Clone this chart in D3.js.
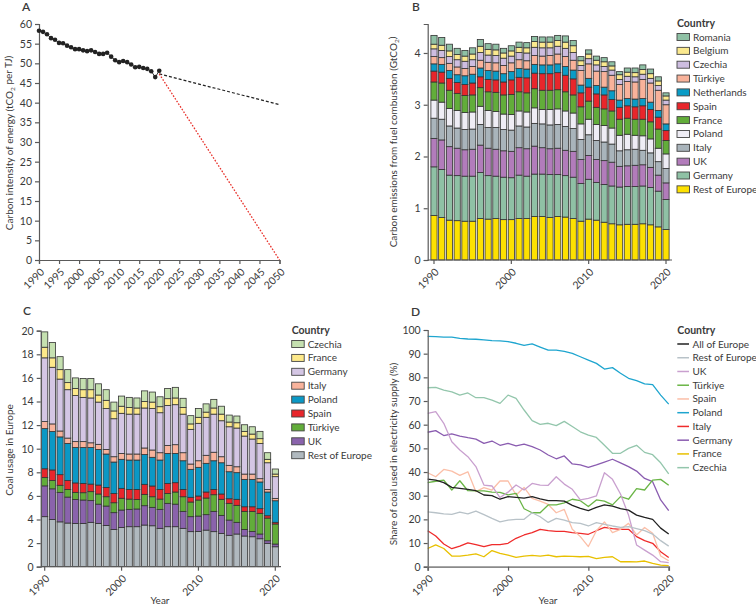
<!DOCTYPE html>
<meta charset="utf-8">
<body style="margin:0;background:#fff">
<svg id="chart" width="756" height="610"></svg>
<script src="https://cdnjs.cloudflare.com/ajax/libs/d3/7.8.5/d3.min.js"></script>
<script>
// ---------- data ----------
var years = d3.range(1990, 2021);

// A: carbon intensity of energy
var intensity = [58.3,58.0,57.4,56.4,56.0,55.2,55.1,54.5,54.1,53.6,53.6,53.3,53.1,53.3,52.9,52.4,52.4,52.7,51.7,50.8,50.3,50.6,50.3,49.7,49.0,49.1,48.8,48.6,48.0,46.5,48.1];
var trendLine = [[2020, 47.3], [2050, 39.5]];
var targetLine = [[2020, 47.3], [2050, 0]];
var ticksA = [1990,1995,2000,2005,2010,2015,2020,2025,2030,2035,2040,2045,2050];

// B: carbon emissions from fuel combustion (GtCO2), bottom to top
var bCountries = ["Rest of Europe","Germany","UK","Italy","Poland","France","Spain","Netherlands","Türkiye","Czechia","Belgium","Romania"];
var bColors = ["#fde101","#8fc1a5","#b27cbb","#a9b4bb","#efedf5","#62ad3a","#e8262b","#0a9cc6","#f8b29a","#cdbde0","#fbe98e","#8fc1a5"];
var bRest   = [0.86,0.82,0.77,0.76,0.75,0.75,0.80,0.79,0.80,0.78,0.78,0.80,0.80,0.84,0.84,0.82,0.84,0.83,0.80,0.75,0.79,0.77,0.73,0.70,0.68,0.69,0.69,0.70,0.68,0.64,0.59];
var bGermany= [0.94,0.93,0.87,0.87,0.87,0.87,0.89,0.84,0.82,0.82,0.81,0.84,0.82,0.82,0.82,0.83,0.81,0.80,0.80,0.73,0.77,0.73,0.73,0.73,0.73,0.73,0.73,0.73,0.72,0.69,0.58];
var bUK     = [0.55,0.57,0.55,0.53,0.51,0.52,0.53,0.53,0.52,0.51,0.51,0.53,0.53,0.54,0.51,0.50,0.51,0.49,0.50,0.46,0.46,0.44,0.46,0.46,0.40,0.40,0.41,0.41,0.39,0.31,0.32];
var bItaly  = [0.39,0.40,0.40,0.39,0.39,0.39,0.40,0.40,0.42,0.41,0.41,0.42,0.42,0.44,0.46,0.46,0.46,0.46,0.44,0.39,0.40,0.37,0.36,0.35,0.30,0.31,0.31,0.28,0.28,0.26,0.28];
var bPoland = [0.35,0.33,0.34,0.34,0.33,0.33,0.35,0.33,0.31,0.30,0.30,0.29,0.29,0.30,0.28,0.30,0.30,0.30,0.30,0.30,0.30,0.31,0.32,0.31,0.30,0.30,0.27,0.28,0.27,0.26,0.28];
var bFrance = [0.35,0.37,0.35,0.33,0.33,0.33,0.36,0.36,0.37,0.37,0.39,0.37,0.37,0.37,0.37,0.37,0.37,0.37,0.35,0.33,0.35,0.33,0.32,0.33,0.31,0.31,0.31,0.32,0.33,0.37,0.26];
var bSpain  = [0.21,0.21,0.23,0.21,0.21,0.23,0.21,0.24,0.24,0.25,0.28,0.28,0.29,0.30,0.32,0.32,0.33,0.32,0.31,0.27,0.27,0.26,0.27,0.22,0.23,0.24,0.24,0.26,0.24,0.23,0.19];
var bNeth   = [0.14,0.15,0.15,0.15,0.17,0.17,0.17,0.17,0.17,0.16,0.16,0.17,0.17,0.17,0.17,0.17,0.17,0.17,0.17,0.15,0.17,0.16,0.15,0.17,0.14,0.14,0.15,0.14,0.14,0.13,0.13];
var bTurkey = [0.14,0.13,0.14,0.15,0.14,0.15,0.15,0.16,0.16,0.16,0.17,0.17,0.16,0.17,0.17,0.18,0.19,0.19,0.19,0.28,0.28,0.28,0.30,0.30,0.30,0.33,0.33,0.37,0.37,0.39,0.37];
var bCzech  = [0.15,0.14,0.13,0.14,0.14,0.13,0.15,0.14,0.14,0.14,0.13,0.14,0.15,0.16,0.16,0.15,0.15,0.16,0.15,0.10,0.10,0.12,0.10,0.10,0.10,0.10,0.10,0.10,0.09,0.09,0.09];
var bBelgium= [0.09,0.10,0.11,0.10,0.10,0.11,0.12,0.11,0.11,0.10,0.10,0.10,0.10,0.11,0.11,0.11,0.11,0.12,0.13,0.09,0.09,0.09,0.09,0.08,0.09,0.08,0.08,0.09,0.09,0.09,0.08];
var bRomania= [0.17,0.15,0.13,0.12,0.11,0.12,0.13,0.11,0.11,0.09,0.10,0.10,0.10,0.10,0.10,0.10,0.10,0.12,0.10,0.08,0.08,0.08,0.08,0.08,0.06,0.08,0.09,0.09,0.09,0.08,0.06];
var bSeries = [bRest,bGermany,bUK,bItaly,bPoland,bFrance,bSpain,bNeth,bTurkey,bCzech,bBelgium,bRomania];

// C: coal usage in Europe, bottom to top
var cCountries = ["Rest of Europe","UK","Türkiye","Spain","Poland","Italy","Germany","France","Czechia"];
var cColors = ["#b0b9bf","#8a63ac","#62ad3a","#e8262b","#0b98c5","#f8b39c","#d4c6e4","#fde98a","#c5e0b0"];
var cRest   = [4.24,4.0,3.8,3.7,3.67,3.67,3.76,3.67,3.5,3.16,3.33,3.39,3.39,3.53,3.47,3.25,3.39,3.39,3.25,2.97,2.99,3.1,2.97,2.82,2.66,2.77,2.6,2.54,2.37,1.98,1.69];
var cUK     = [2.61,2.6,2.5,2.2,2.03,1.98,1.84,1.63,1.64,1.42,1.47,1.47,1.5,1.64,1.56,1.61,1.98,1.91,1.44,1.27,1.3,1.31,1.72,1.53,1.29,0.99,0.56,0.45,0.4,0.22,0.23];
var cTurkey = [0.7,0.7,0.6,0.65,0.6,0.62,0.76,0.86,0.79,0.84,1.0,0.87,0.81,0.96,0.9,0.87,0.84,1.03,1.24,1.24,1.36,1.41,1.41,1.36,1.42,1.44,1.53,1.7,1.75,1.92,1.7];
var cSpain  = [0.75,0.9,0.9,0.75,0.8,0.79,0.64,0.76,0.79,0.79,0.84,0.82,0.85,0.85,0.91,0.82,0.85,0.79,0.62,0.4,0.34,0.51,0.45,0.45,0.39,0.51,0.39,0.39,0.4,0.2,0.14];
var cPoland = [3.4,3.25,3.2,3.15,3.0,3.04,3.1,3.02,2.83,2.66,2.46,2.49,2.49,2.52,2.43,2.49,2.54,2.48,2.43,2.37,2.43,2.43,2.43,2.65,2.29,2.26,2.32,2.32,2.26,2.01,1.83];
var cItaly  = [0.6,0.65,0.5,0.45,0.5,0.5,0.4,0.43,0.39,0.45,0.5,0.51,0.51,0.56,0.62,0.62,0.68,0.74,0.68,0.45,0.56,0.68,0.72,0.51,0.54,0.5,0.45,0.45,0.28,0.22,0.2];
var cGermany= [5.4,4.8,4.4,4.1,3.9,3.75,3.8,3.58,3.46,3.22,3.4,3.38,3.38,3.39,3.51,3.39,3.39,3.39,3.27,2.94,3.17,3.22,3.23,3.05,3.27,3.28,3.22,2.97,2.99,2.26,1.84];
var cFrance = [0.9,0.8,0.8,0.6,0.6,0.65,0.7,0.6,0.7,0.66,0.6,0.57,0.52,0.55,0.55,0.51,0.57,0.57,0.57,0.46,0.51,0.44,0.52,0.56,0.4,0.45,0.4,0.42,0.4,0.29,0.22];
var cCzech  = [1.3,1.3,1.1,1.1,0.9,0.95,0.95,0.95,0.9,0.75,0.86,0.85,0.85,0.9,0.85,0.84,0.86,0.9,0.77,0.7,0.74,0.7,0.73,0.67,0.59,0.57,0.56,0.62,0.62,0.56,0.43];
var cSeries = [cRest,cUK,cTurkey,cSpain,cPoland,cItaly,cGermany,cFrance,cCzech];

// D: share of coal in electricity supply (%), legend order
var dCountries = ["All of Europe","Rest of Europe","UK","Türkiye","Spain","Poland","Italy","Germany","France","Czechia"];
var dColors = ["#222222","#b8c2c8","#c9a0cf","#6ab546","#fbbfa8","#1ea5cf","#ef2b2b","#8a5cb0","#e8c000","#93c6ac"];
var dAll    = [37.0,36.6,35.5,33.5,33.1,32.7,32.1,30.3,30.0,28.5,29.6,29.3,29.0,29.6,28.7,27.9,27.9,27.7,25.9,24.6,23.7,25.1,26.1,25.6,24.5,23.9,21.8,20.8,20.0,16.3,13.8];
var dRest   = [23.2,22.8,22.3,22.1,23.1,22.3,23.5,22.0,20.4,18.9,19.7,20.0,20.0,22.8,21.1,18.7,20.4,19.7,18.6,18.3,17.2,18.6,17.9,17.2,16.6,16.9,16.1,15.2,13.8,11.0,8.7];
var dUK     = [64.8,65.5,60.6,52.8,49.3,46.5,42.3,34.5,34.1,29.2,31.5,34.5,32.4,35.2,34.5,34.4,38.0,34.9,32.7,28.2,28.9,29.9,39.7,36.9,30.7,21.8,9.2,7.0,4.9,2.1,1.7];
var dTurkey = [35.5,36.1,36.6,32.4,36.3,32.1,32.0,32.0,31.5,31.4,30.3,31.0,24.5,22.8,22.8,26.1,26.1,27.0,28.5,27.9,25.4,28.2,27.7,26.1,29.6,28.5,33.0,32.4,36.6,36.9,34.4];
var dSpain  = [39.7,38.0,41.1,40.4,38.6,40.1,31.7,33.4,32.4,36.2,36.2,30.3,33.5,28.9,27.7,26.3,22.8,24.2,15.8,12.7,8.5,15.2,18.9,14.4,15.8,18.3,13.4,16.6,14.1,4.5,2.5];
var dPoland = [97.3,97.2,97.0,97.0,96.5,96.2,96.1,95.8,95.5,95.4,95.1,94.4,93.5,94.1,92.8,91.5,91.5,91.0,90.1,88.7,87.3,85.9,83.5,84.1,81.7,79.6,78.6,77.2,76.9,72.5,68.7];
var dItaly  = [15.2,13.0,9.6,7.6,8.7,10.1,9.3,8.5,9.3,9.3,9.9,12.0,13.4,14.4,15.8,15.2,14.9,14.9,14.4,14.1,13.7,15.2,16.6,16.1,15.8,15.8,12.7,11.0,9.9,6.3,3.9];
var dGermany= [56.8,57.5,55.4,56.1,55.2,54.5,53.9,52.1,53.1,51.3,52.1,51.0,51.8,50.7,49.3,47.2,45.6,46.8,43.4,43.0,42.0,43.0,44.2,45.4,43.9,42.3,40.4,37.3,35.9,28.2,23.7];
var dFrance = [7.7,9.2,7.7,4.5,4.5,4.9,5.4,4.2,6.8,5.6,4.9,3.9,4.5,4.8,4.5,4.9,4.2,4.5,4.4,4.2,4.4,3.4,3.9,4.2,2.1,2.1,2.0,2.4,1.4,0.7,0.4];
var dCzech  = [75.6,75.8,74.6,73.9,72.5,73.4,71.4,71.4,70.4,69.0,72.5,71.1,66.2,61.7,60.1,60.6,59.6,61.4,59.2,57.0,55.6,54.6,51.3,47.9,47.9,50.0,51.3,48.3,47.3,43.9,39.2];
var dSeries = [dAll,dRest,dUK,dTurkey,dSpain,dPoland,dItaly,dGermany,dFrance,dCzech];

var decadeTicks = [1990, 2000, 2010, 2020];

// ---------- helpers ----------
var svg = d3.select('#chart')
	.style("font-family", "Lato, 'Open Sans', sans-serif");
var textCol = "#3a3a3a", axisCol = "#5a5a5a";
var fs = "10px";

function styleAxis(g){
	g.selectAll("path,line").attr("stroke", axisCol).attr("stroke-width", 1.2);
	g.selectAll("text").attr("fill", textCol).style("font-size", "10.5px").style("font-family", "Lato, sans-serif");
}
function yAxis(scale, x, ticks){
	var g = svg.append("g").attr("transform", "translate(" + x + ",0)")
		.call(d3.axisLeft(scale).tickValues(ticks).tickSize(4).tickPadding(3).tickFormat(d3.format("d")));
	styleAxis(g);
	return g;
}
function xAxis(scale, y, ticks, band){
	var g = svg.append("g").attr("transform", "translate(0," + y + ")")
		.call(d3.axisBottom(scale).tickValues(ticks).tickSize(4).tickPadding(3).tickFormat(d3.format("d")));
	if (band) g.select(".domain").remove();
	styleAxis(g);
	g.selectAll("text")
		.attr("text-anchor", "end")
		.attr("x", 0).attr("y", 0).attr("dy", "0.35em")
		.attr("transform", "translate(3,10) rotate(-45)");
	return g;
}
function yTitle(x, y, parts){
	var t = svg.append("text").attr("transform", "translate(" + x + "," + y + ") rotate(-90)")
		.attr("text-anchor", "middle").attr("fill", textCol).style("font-size", fs);
	parts.forEach(function(p){
		var s = t.append("tspan").text(p[0]);
		if (p[1]) s.style("font-size", "6.5px").attr("dy", "0.25em");
		else if (p[2]) s.attr("dy", "-0.25em");
	});
}
function label(x, y, txt, opt){
	opt = opt || {};
	return svg.append("text").attr("x", x).attr("y", y).text(txt)
		.attr("fill", textCol)
		.style("font-size", opt.size || fs)
		.style("font-weight", opt.weight || "normal")
		.attr("text-anchor", opt.anchor || "start");
}

// ---------- panel A ----------
var xA = d3.scaleLinear().domain([1990, 2050]).range([39, 279.5]);
var yA = d3.scaleLinear().domain([0, 60]).range([260, 24]);
yAxis(yA, 39, d3.range(0, 61, 5));
xAxis(xA, 260, ticksA);
label(22, 11, "A", {size: "12px", weight: "600"});
yTitle(13, 143, [["Carbon intensity of energy (tCO"], ["2", true], [" per TJ)", false, true]]);

var lineA = d3.line().x(function(d){ return xA(d[0]); }).y(function(d){ return yA(d[1]); });
var ptsA = years.map(function(y, i){ return [y, intensity[i]]; });
svg.append("path").attr("d", lineA(ptsA)).attr("fill", "none").attr("stroke", "#222").attr("stroke-width", 0.9);
svg.append("path").attr("d", lineA(trendLine)).attr("fill", "none").attr("stroke", "#222")
	.attr("stroke-width", 1.2).attr("stroke-dasharray", "3,2");
svg.append("path").attr("d", lineA(targetLine)).attr("fill", "none").attr("stroke", "#e8302a")
	.attr("stroke-width", 1.3).attr("stroke-dasharray", "1.6,1.6");
svg.selectAll(".dotA").data(ptsA).enter().append("circle")
	.attr("class", "dotA")
	.attr("cx", function(d){ return xA(d[0]); })
	.attr("cy", function(d){ return yA(d[1]); })
	.attr("r", 2.3).attr("fill", "#222");

// ---------- stacked bars ----------
function stackedBars(series, colors, xS, yS){
	var rows = years.map(function(y, i){
		var r = {year: y};
		series.forEach(function(s, k){ r[k] = s[i]; });
		return r;
	});
	var stacked = d3.stack().keys(series.map(function(s, k){ return k; }))(rows);
	var g = svg.append("g");
	g.selectAll("g.layer").data(stacked).enter().append("g")
		.attr("class", "layer")
		.attr("fill", function(d, k){ return colors[k]; })
		.selectAll("rect").data(function(d){ return d; }).enter().append("rect")
		.attr("x", function(d){ return xS(d.data.year); })
		.attr("width", xS.bandwidth())
		.attr("y", function(d){ return yS(d[1]); })
		.attr("height", function(d){ return yS(d[0]) - yS(d[1]); })
		.attr("stroke", "#333").attr("stroke-width", 0.8);
}
function swatchLegend(x, y, names, colors, step){
	label(x, y, "Country", {size: "10.5px", weight: "700"});
	names.forEach(function(n, i){
		var cy = y + 10 + i * step;
		svg.append("rect").attr("x", x).attr("y", cy - 3.5).attr("width", 12.5).attr("height", 7)
			.attr("fill", colors[i]).attr("stroke", "#444").attr("stroke-width", 0.9);
		label(x + 16, cy + 3.5, n);
	});
}

// ---------- panel B ----------
var xB = d3.scaleBand().domain(years).range([428, 672]).paddingInner(0.2).paddingOuter(0.375);
var yB = d3.scaleLinear().domain([0, 4.56]).range([260, 24]);
stackedBars(bSeries, bColors, xB, yB);
yAxis(yB, 427.7, [0, 1, 2, 3, 4]);
svg.append("line").attr("x1", 427.7).attr("x2", 672).attr("y1", 260).attr("y2", 260)
	.attr("stroke", axisCol).attr("stroke-width", 1.2);
xAxis(xB, 260, decadeTicks, true);
label(412, 11, "B", {size: "12px", weight: "600"});
yTitle(397, 142, [["Carbon emissions from fuel combustion (GtCO"], ["2", true], [")", false, true]]);
swatchLegend(677, 27, bCountries.slice().reverse(), bColors.slice().reverse(), 13.85);

// ---------- panel C ----------
var xC = d3.scaleBand().domain(years).range([40.7, 279.3]).paddingInner(0.2).paddingOuter(0.12);
var yC = d3.scaleLinear().domain([0, 20]).range([566.7, 330.7]);
stackedBars(cSeries, cColors, xC, yC);
yAxis(yC, 40.7, d3.range(0, 21, 2));
svg.append("line").attr("x1", 40.7).attr("x2", 281).attr("y1", 566.7).attr("y2", 566.7)
	.attr("stroke", axisCol).attr("stroke-width", 1.2);
xAxis(xC, 566.7, decadeTicks, true);
label(23, 315, "C", {size: "12px", weight: "600"});
yTitle(13, 450, [["Coal usage in Europe"]]);
label(160, 604, "Year", {anchor: "middle"});
swatchLegend(291.7, 334, cCountries.slice().reverse(), cColors.slice().reverse(), 13.9);

// ---------- panel D ----------
var xD = d3.scaleLinear().domain([1990, 2020]).range([427.7, 668.7]);
var yD = d3.scaleLinear().domain([0, 100]).range([566.7, 330]);
var lineD = d3.line().x(function(d, i){ return xD(years[i]); }).y(function(d){ return yD(d); });
for (var k = dSeries.length - 1; k >= 0; k--) {
	svg.append("path").attr("d", lineD(dSeries[k])).attr("fill", "none")
		.attr("stroke", dColors[k]).attr("stroke-width", 1.3).attr("stroke-linejoin", "round");
}
yAxis(yD, 427.7, d3.range(0, 101, 10));
xAxis(xD, 566.7, decadeTicks).select(".domain").attr("stroke", "#8a8a8a").attr("stroke-width", 1.8);
label(411, 316, "D", {size: "12px", weight: "600"});
yTitle(397, 454, [["Share of coal used in electricity supply (%)"]]);
label(548, 604, "Year", {anchor: "middle"});

label(677.3, 334, "Country", {size: "10.5px", weight: "700"});
dCountries.forEach(function(n, i){
	var cy = 344 + i * 13.74;
	svg.append("line").attr("x1", 677.3).attr("x2", 689).attr("y1", cy).attr("y2", cy)
		.attr("stroke", dColors[i]).attr("stroke-width", 1.5);
	label(692.5, cy + 3.5, n);
});
</script>
